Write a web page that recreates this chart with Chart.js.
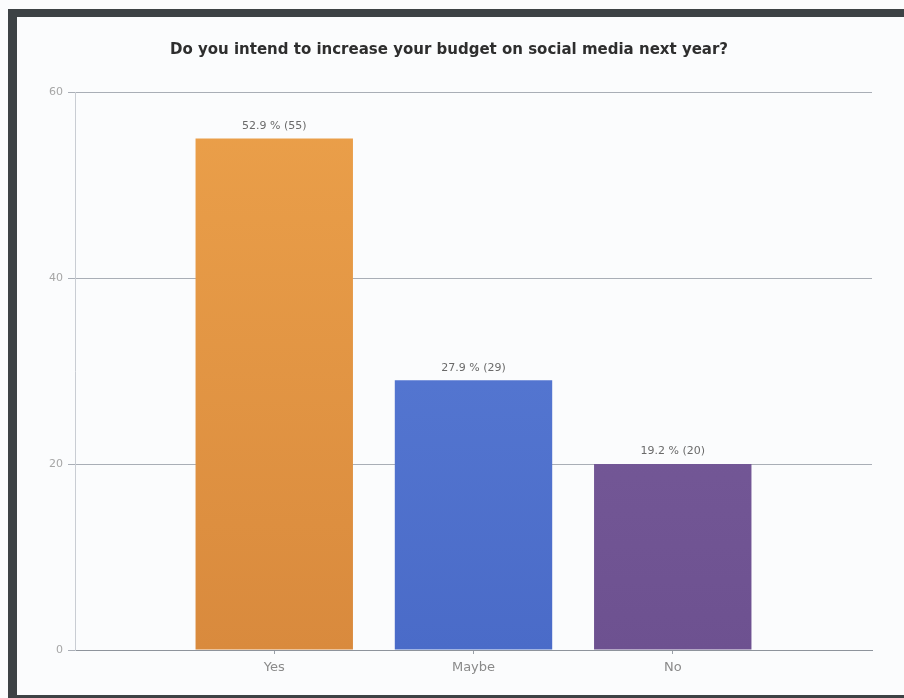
<!DOCTYPE html>
<html>
<head>
<meta charset="utf-8">
<script src="https://cdn.jsdelivr.net/npm/chart.js@4.4.1/dist/chart.umd.min.js"></script>
<style>
  html, body { margin: 0; padding: 0; background: #fbfcfd; }
  #wrap { position: relative; width: 904px; height: 698px; overflow: hidden; }
  #chart { position: absolute; left: 0; top: 0; }
  #frame {
    position: absolute; left: 8px; top: 9px; right: 0; bottom: 0;
    box-sizing: border-box;
    border-left: 9px solid #3d4245;
    border-top: 8px solid #3d4245;
    border-bottom: 3px solid #3d4245;
    pointer-events: none;
  }
</style>
</head>
<body>
<div id="wrap">
  <canvas id="chart" width="904" height="698"></canvas>
  <div id="frame"></div>
</div>
<script>
// Survey answers
const categories = ['Yes', 'Maybe', 'No'];
const responses = [55, 29, 20];
const shares = [52.9, 27.9, 19.2];
const yTicks = [0, 20, 40, 60];

// The x axis has an empty slot at each end so the three bars sit on
// evenly spaced positions with room on both sides.
const slotLabels = ['', ...categories, ''];
const slotValues = [null, ...responses, null];

const barColors = [
  ['#eba04a', '#d98a3d'],
  ['#5d80d8', '#4a6bc8'],
  ['#7d61a0', '#6d5190']
];

function barFill(ctx) {
  const chart = ctx.chart;
  const area = chart.chartArea;
  const i = ctx.dataIndex - 1;
  if (!area || i < 0 || i >= barColors.length) return '#999';
  const g = chart.ctx.createLinearGradient(0, area.top, 0, area.bottom);
  g.addColorStop(0, barColors[i][0]);
  g.addColorStop(1, barColors[i][1]);
  return g;
}

const valueLabels = {
  id: 'valueLabels',
  afterDatasetsDraw(chart) {
    const ctx = chart.ctx;
    const meta = chart.getDatasetMeta(0);
    ctx.save();
    ctx.font = '11px "DejaVu Sans"';
    ctx.fillStyle = '#6a6a6a';
    ctx.textAlign = 'center';
    ctx.textBaseline = 'bottom';
    categories.forEach((c, i) => {
      const bar = meta.data[i + 1];
      ctx.fillText(shares[i].toFixed(1) + ' % (' + responses[i] + ')', bar.x, bar.y - 7);
    });
    ctx.restore();
  }
};

new Chart(document.getElementById('chart'), {
  type: 'bar',
  data: {
    labels: slotLabels,
    datasets: [{
      data: slotValues,
      backgroundColor: barFill,
      borderWidth: 0,
      categoryPercentage: 1,
      barPercentage: 0.79
    }]
  },
  options: {
    responsive: false,
    animation: false,
    events: [],
    layout: { padding: { left: 26, right: 32, top: 0, bottom: 0 } },
    plugins: {
      legend: { display: false },
      tooltip: { enabled: false },
      title: {
        display: true,
        text: 'Do you intend to increase your budget on social media next year?',
        color: '#2e2e2e',
        font: { family: '"DejaVu Sans"', size: 15, weight: 'bold' },
        padding: { top: 41, bottom: 33 }
      }
    },
    scales: {
      x: {
        type: 'category',
        offset: false,
        grid: {
          offset: false,
          drawOnChartArea: false,
          drawTicks: true,
          tickLength: 4,
          color: (ctx) => (ctx.index === 0 || ctx.index === slotLabels.length - 1) ? 'rgba(0,0,0,0)' : '#9aa0a8'
        },
        border: { display: true, color: '#8e949c', width: 1 },
        ticks: {
          color: '#8a8a8a',
          font: { family: '"DejaVu Sans"', size: 13 },
          padding: 6,
          maxRotation: 0,
          autoSkip: false
        },
        afterFit(scale) { scale.height = 48; }
      },
      y: {
        min: 0,
        max: 60,
        afterBuildTicks(scale) { scale.ticks = yTicks.map(v => ({ value: v })); },
        grid: {
          color: '#a9aeb6',
          tickLength: 7,
          drawTicks: true
        },
        border: { display: true, color: '#c9cdd3', width: 1 },
        ticks: {
          color: '#a6a6a6',
          font: { family: '"DejaVu Sans"', size: 11 },
          padding: 5
        },
        afterFit(scale) { scale.width = 49; }
      }
    }
  },
  plugins: [valueLabels]
});
</script>
</body>
</html>
